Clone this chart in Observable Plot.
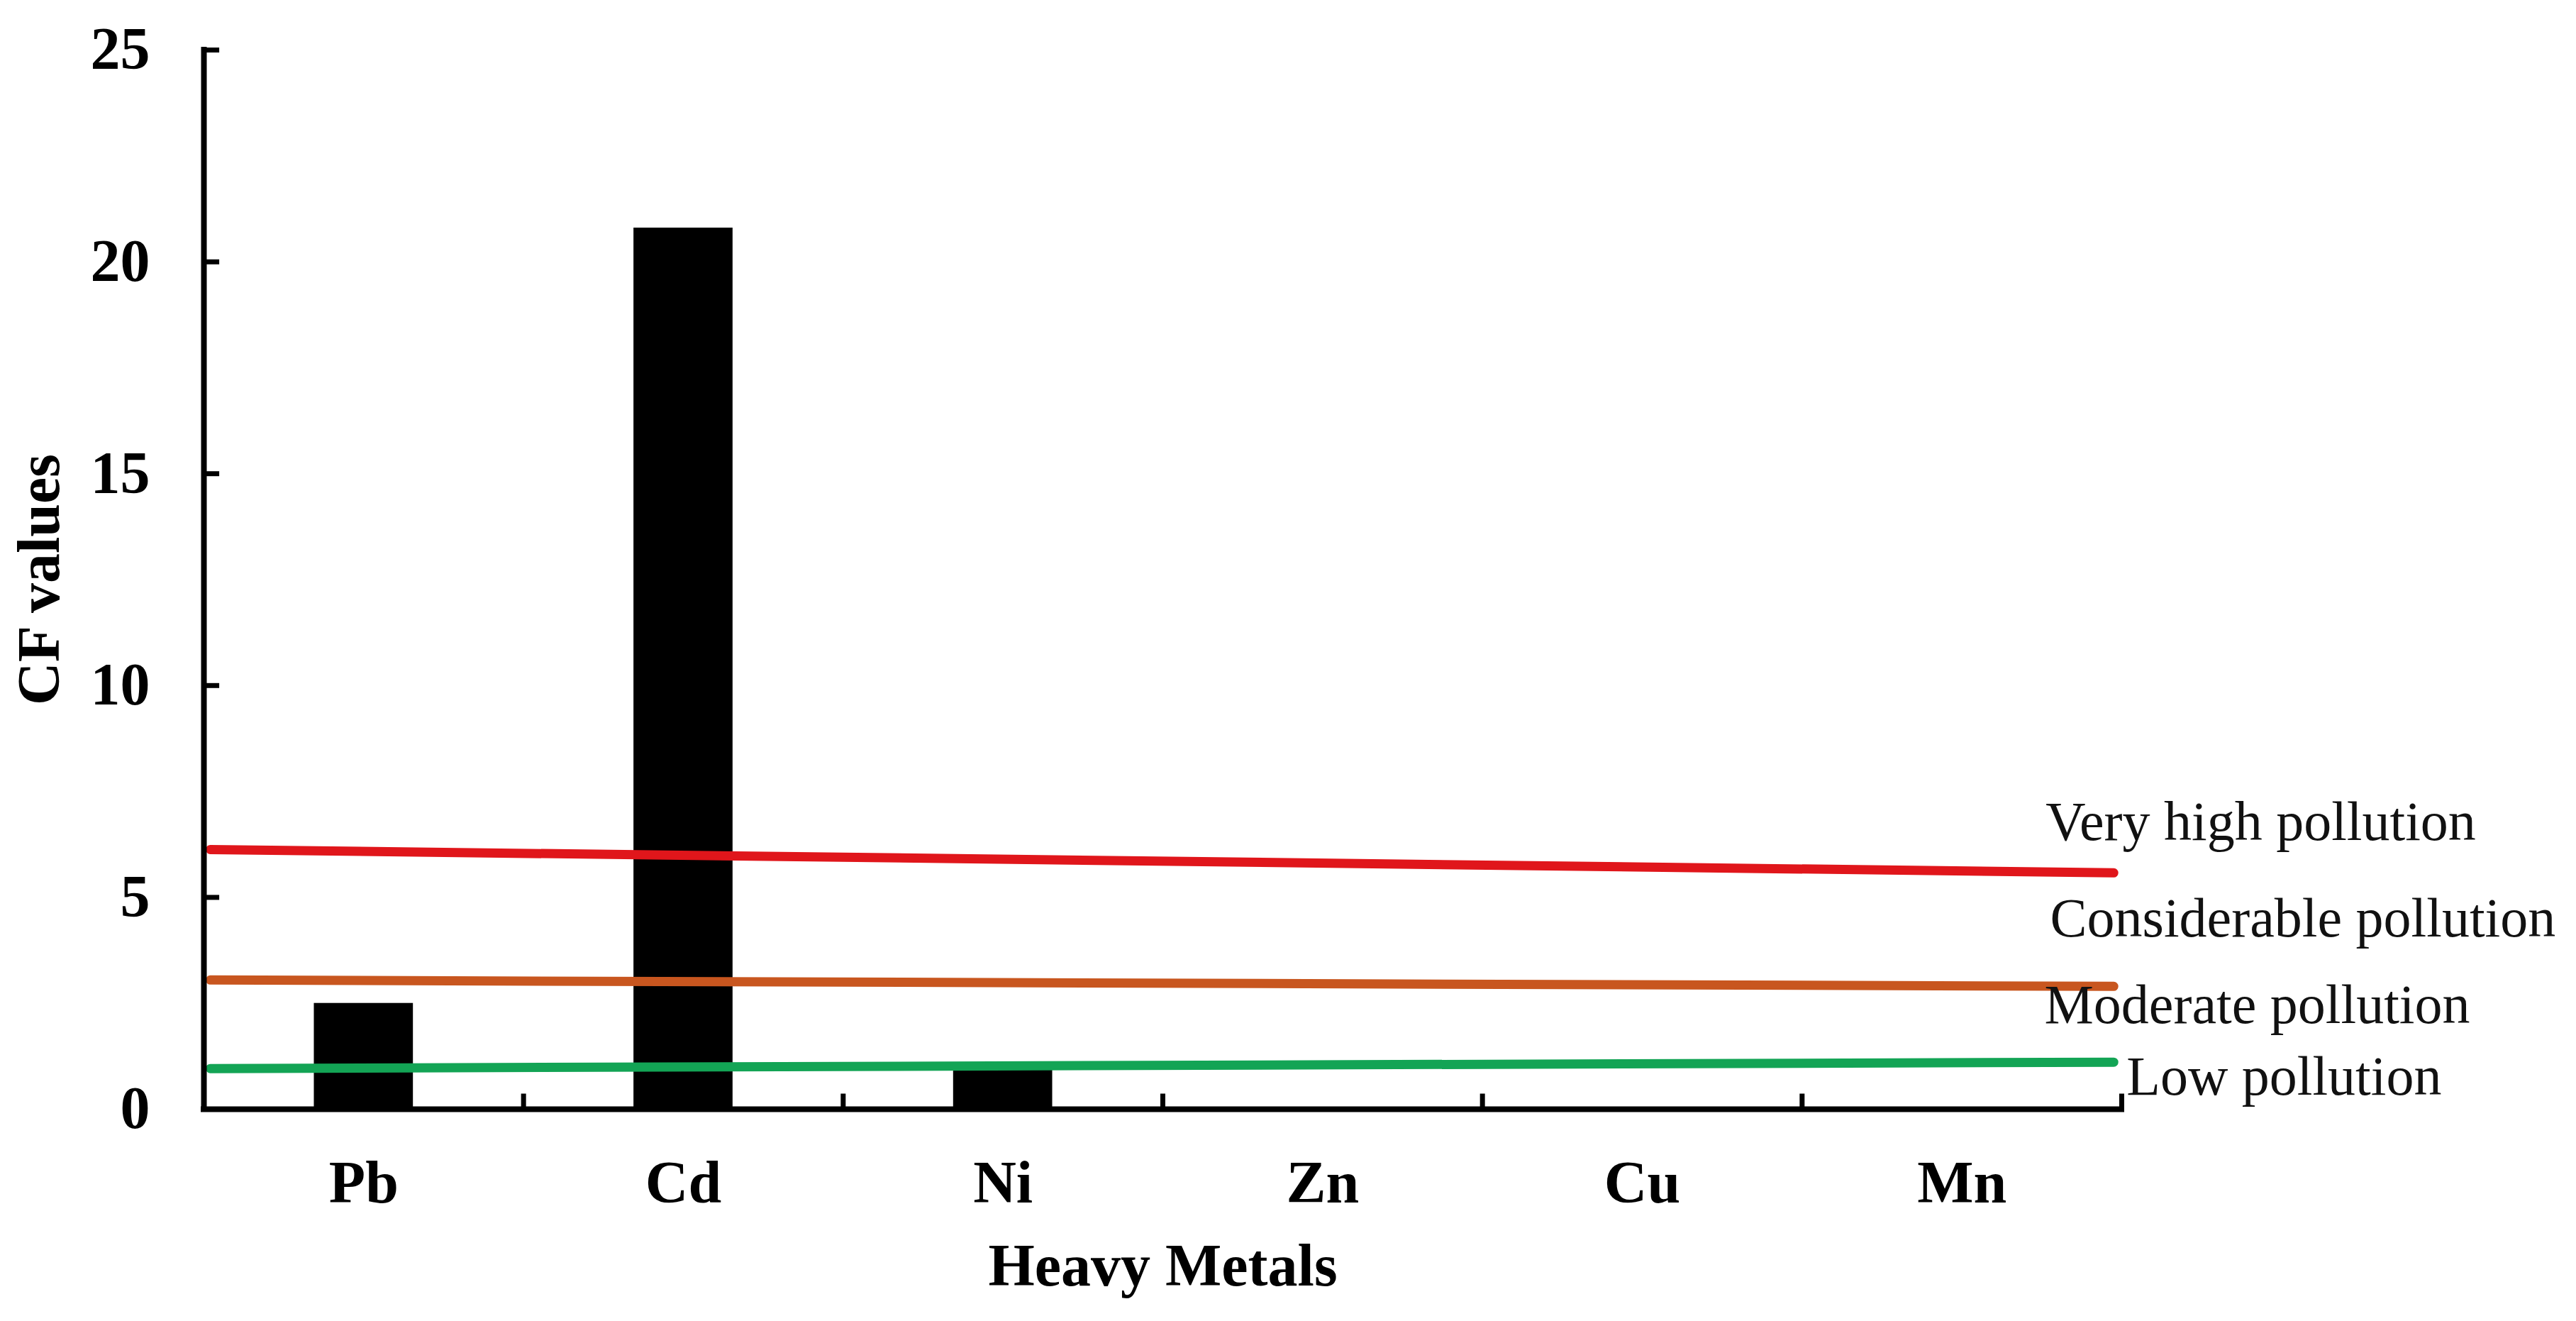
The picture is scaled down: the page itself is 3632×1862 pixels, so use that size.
<!DOCTYPE html>
<html>
<head>
<meta charset="utf-8">
<script src="https://cdn.jsdelivr.net/npm/d3@7"></script>
<script src="https://cdn.jsdelivr.net/npm/@observablehq/plot@0.6"></script>
<style>
  html, body { margin: 0; padding: 0; background: #fff; }
  svg { display: block; }
</style>
</head>
<body>
<div id="chart"></div>
<script>
// ---- data ----
const metals = ["Pb", "Cd", "Ni", "Zn", "Cu", "Mn"];
const cfValues = [2.5, 20.8, 0.95, 0, 0, 0];
const yTicks = [0, 5, 10, 15, 20, 25];

// slightly sloped threshold lines (value at left end, value at right end)
const thresholdNames = ["Very high", "Considerable", "Low"];
const thresholdStart = [6.13, 3.05, 0.96];
const thresholdEnd = [5.58, 2.90, 1.11];
const thresholdColors = ["#E0161B", "#C8561F", "#13A455"];
const lineSpan = [0.02, 5.975];

// zone annotations (positions in data units)
const zoneLabels = ["Very high pollution", "Considerable pollution", "Moderate pollution", "Low pollution"];
const zoneLabelX = [5.762, 5.776, 5.758, 6.015];
const zoneLabelY = [6.35, 4.07, 2.04, 0.35];

// ---- tables built from the arrays ----
const bars = metals.map((m, i) => ({metal: m, i, v: cfValues[i]}));
const lines = thresholdNames.flatMap((n, i) => [
  {name: n, x: lineSpan[0], y: thresholdStart[i]},
  {name: n, x: lineSpan[1], y: thresholdEnd[i]}
]);
const categoryTicks = metals.map((m, i) => i + 0.5);
const dividerTicks = metals.map((m, i) => i + 1);

const FONT = "'Liberation Serif', 'Times New Roman', serif";

const chart = Plot.plot({
  width: 3632,
  height: 1862,
  marginLeft: 287,
  marginRight: 641,
  marginTop: 70,
  marginBottom: 299,
  x: {domain: [0, metals.length], label: null},
  y: {domain: [0, 25], label: null},
  color: {domain: thresholdNames, range: thresholdColors},
  style: {fontFamily: FONT, background: "#fff", color: "#000"},
  marks: [
    Plot.rectY(bars, {x1: d => d.i + 0.345, x2: d => d.i + 0.655, y1: 0, y2: "v", fill: "#000"}),
    Plot.lineY(lines, {x: "x", y: "y", z: "name", stroke: "name", strokeWidth: 13}),
    // axis lines
    Plot.ruleX([0], {y1: 0, y2: 25, stroke: "#000", strokeWidth: 8, strokeLinecap: "square"}),
    Plot.ruleY([0], {x1: 0, x2: metals.length, stroke: "#000", strokeWidth: 8, strokeLinecap: "square"}),
    // inward ticks
    Plot.ruleY(yTicks, {x1: 0, x2: 0.049, stroke: "#000", strokeWidth: 7}),
    Plot.ruleX(dividerTicks, {y1: 0, y2: 0.36, stroke: "#000", strokeWidth: 7}),
    // tick labels
    Plot.axisX(categoryTicks, {
      tickFormat: d => metals[Math.floor(d)],
      tickSize: 0, tickPadding: 72,
      fontSize: 84, fontWeight: "bold", fontFamily: FONT, label: null
    }),
    Plot.axisY(yTicks, {
      tickFormat: d => String(d),
      tickSize: 0, tickPadding: 76,
      fontSize: 84, fontWeight: "bold", fontFamily: FONT, label: null
    }),
    // axis titles
    Plot.text(["Heavy Metals"], {text: d => d, frameAnchor: "bottom", dy: 248, lineAnchor: "bottom",
      textAnchor: "middle", fontSize: 84, fontWeight: "bold", fontFamily: FONT}),
    Plot.text(["CF values"], {text: d => d, frameAnchor: "left", dx: -205, rotate: -90, lineAnchor: "bottom",
      textAnchor: "middle", fontSize: 84, fontWeight: "bold", fontFamily: FONT}),
    // zone annotations
    Plot.text(zoneLabels, {
      x: (d, i) => zoneLabelX[i], y: (d, i) => zoneLabelY[i], text: d => d,
      textAnchor: "start", lineAnchor: "bottom", fontSize: 78, fontFamily: FONT, fill: "#111"
    })
  ]
});
document.getElementById("chart").appendChild(chart);
</script>
</body>
</html>
